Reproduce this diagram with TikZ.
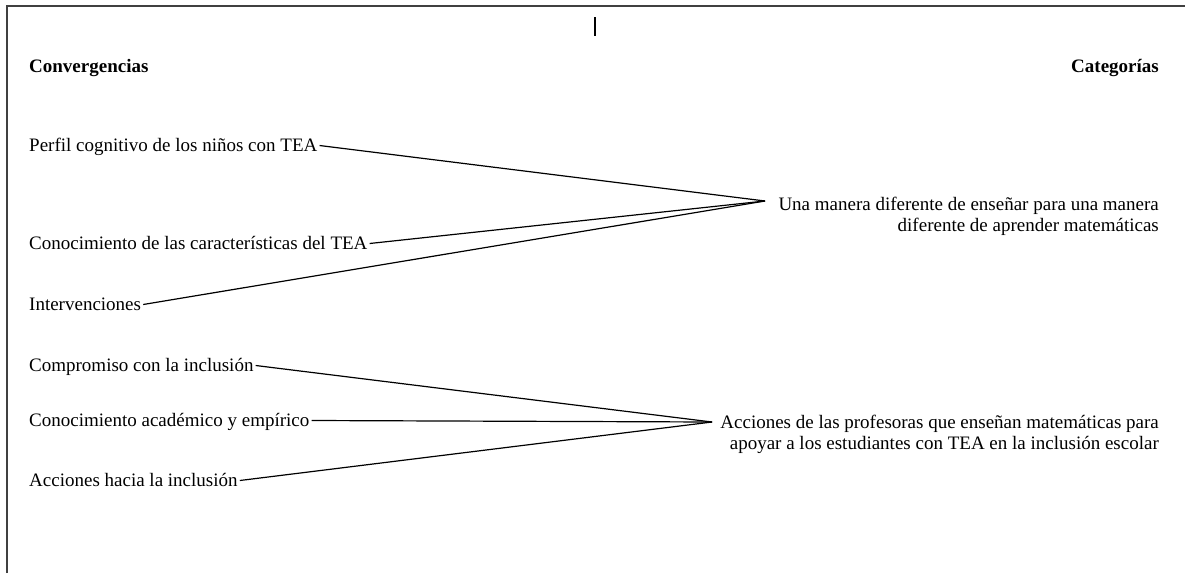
\documentclass[tikz,border=0pt]{standalone}
\usepackage{fontspec}
\setmainfont{Liberation Serif}
\begin{document}
\begin{tikzpicture}[x=1pt,y=-1pt,
  lbl/.style={inner xsep=2pt,inner ysep=0pt,text height=11pt,text depth=0pt,font=\fontsize{19}{21}\selectfont},
  head/.style={inner sep=0pt,font=\fontsize{19}{21}\selectfont\bfseries},
  cat/.style={inner sep=0pt,align=right,font=\fontsize{19}{21}\selectfont},
  conn/.style={line width=1.2pt,black},
  frame/.style={line width=2pt,black!75}]
\useasboundingbox (0,0) rectangle (1185,573);
\draw[frame] (7,573) -- (7,5.5) -- (1185,5.5);
\draw[line width=1.5pt] (595,17) -- (595,36);
\node[head,anchor=base west] (hconv) at (29,72) {Convergencias};
\node[head,anchor=base east] (hcat) at (1159,72) {Categorías};
\node[lbl,anchor=base west] (a1) at (27,151) {Perfil cognitivo de los niños con TEA};
\node[lbl,anchor=base west] (a2) at (27,249) {Conocimiento de las características del TEA};
\node[lbl,anchor=base west] (a3) at (27,310) {Intervenciones};
\node[lbl,anchor=base west] (b1) at (27,371) {Compromiso con la inclusión};
\node[lbl,anchor=base west] (b2) at (27,426) {Conocimiento académico y empírico};
\node[lbl,anchor=base west] (b3) at (27,486) {Acciones hacia la inclusión};
\node[cat,anchor=base east] (c1) at (1159,231) {Una manera diferente de enseñar para una manera\\diferente de aprender matemáticas};
\node[cat,anchor=base east] (c2) at (1159,449) {Acciones de las profesoras que enseñan matemáticas para\\apoyar a los estudiantes con TEA en la inclusión escolar};
\coordinate (p1) at (765,201);
\coordinate (p2) at (712,422);
\draw[conn] (a1.east) -- (p1);
\draw[conn] (a2.east) -- (p1);
\draw[conn] (a3.east) -- (p1);
\draw[conn] (b1.east) -- (p2);
\draw[conn] (b2.east) -- (p2);
\draw[conn] (b3.east) -- (p2);
\end{tikzpicture}
\end{document}
